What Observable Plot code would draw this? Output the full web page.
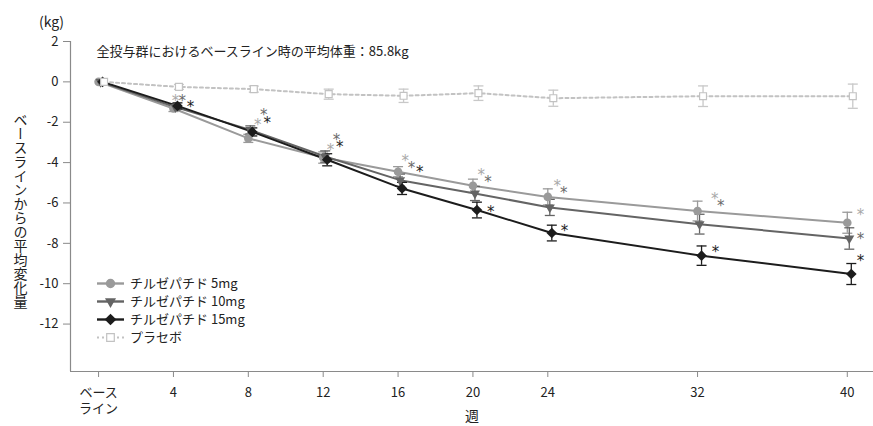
<!DOCTYPE html>
<html><head><meta charset="utf-8">
<script src="https://cdn.jsdelivr.net/npm/d3@7"></script>
<script src="https://cdn.jsdelivr.net/npm/@observablehq/plot@0.6"></script>
<style>
body{margin:0;background:#fff;font-family:'Noto Sans CJK JP',sans-serif;}
#wrap{position:relative;width:873px;height:426px;}
#legend{position:absolute;left:0;top:0;pointer-events:none;}
</style></head><body><div id="wrap"></div>
<script>
// ---- data ----
const weeks = [0, 4, 8, 12, 16, 20, 24, 32, 40];
const weekLabels = ["ベース\nライン", "4", "8", "12", "16", "20", "24", "32", "40"];
const yTicks = [2, 0, -2, -4, -6, -8, -10, -12];
const seriesNames = ["チルゼパチド 5mg", "チルゼパチド 10mg", "チルゼパチド 15mg", "プラセボ"];
const mean5   = [0, -1.32, -2.80, -3.75, -4.45, -5.15, -5.70, -6.40, -6.98];
const se5     = [0, 0.15, 0.20, 0.28, 0.25, 0.33, 0.40, 0.49, 0.52];
const mean10  = [0, -1.25, -2.38, -3.70, -4.87, -5.53, -6.22, -7.05, -7.76];
const se10    = [0, 0.15, 0.20, 0.28, 0.30, 0.35, 0.40, 0.49, 0.53];
const mean15  = [0, -1.19, -2.48, -3.86, -5.28, -6.35, -7.49, -8.61, -9.52];
const se15    = [0, 0.15, 0.20, 0.30, 0.30, 0.39, 0.39, 0.48, 0.52];
const meanPbo = [0, -0.25, -0.36, -0.61, -0.69, -0.56, -0.81, -0.71, -0.71];
const sePbo   = [0, 0.12, 0.15, 0.25, 0.33, 0.36, 0.40, 0.51, 0.60];
// significance asterisk annotations (week position, kg position)
const astWeek5  = [4.11, 8.50, 12.39, 16.39, 20.45, 24.50, 32.92, 40.70];
const astY5     = [-0.72, -1.91, -3.15, -3.73, -4.43, -4.94, -5.60, -6.41];
const astWeek10 = [4.47, 8.83, 12.71, 16.72, 20.81, 24.85, 33.24, 40.70];
const astY10    = [-0.72, -1.42, -2.66, -4.06, -4.75, -5.30, -5.96, -7.56];
const astWeek15 = [4.91, 9.01, 12.89, 17.16, 20.95, 24.89, 32.96, 40.70];
const astY15    = [-1.06, -1.83, -3.04, -4.28, -6.24, -7.16, -8.24, -8.69];
const astLabel = "*";
const titleText = "全投与群におけるベースライン時の平均体重：85.8kg";
const yLabelText = "ベースラインからの平均変化量";
const xLabelText = "週";
const unitText = "(kg)";

// ---- styling ----
const xDomain = [-1.5, 41.4];
const yDomain = [-14.35, 2];
const colors = ["#9a9a9a", "#646464", "#1c1c1c", "#c2c2c2"];
const astColors = ["#a8a8a8", "#6a6a6a", "#1c1c1c"];
const dxs = [0, 2, 4, 5.5];
const font = "'Noto Sans CJK JP', 'Noto Sans', sans-serif";

const rows = (mean, se) => weeks.map((w, i) => ({week: w, mean: mean[i], lo: mean[i] - se[i], hi: mean[i] + se[i], se: se[i]}));
const series = [rows(mean5, se5), rows(mean10, se10), rows(mean15, se15), rows(meanPbo, sePbo)];
const asts = [
  astWeek5.map((w, i) => ({week: w, y: astY5[i]})),
  astWeek10.map((w, i) => ({week: w, y: astY10[i]})),
  astWeek15.map((w, i) => ({week: w, y: astY15[i]}))
];

const capSymbol = {draw(ctx, size) { const r = Math.sqrt(size / Math.PI); ctx.moveTo(-r, 0); ctx.lineTo(r, 0); }};
const pointStyles = [
  {symbol: "circle", r: 4.3, fill: colors[0], stroke: "none"},
  {symbol: "triangle2", r: 4.8, fill: colors[1], stroke: "none", rotate: 180},
  {symbol: "square2", r: 4.8, fill: colors[2], stroke: "none", rotate: 45},
  {symbol: "square2", r: 4.4, fill: "white", stroke: colors[3], strokeWidth: 1.2}
];

const marks = [];
// axis lines
marks.push(Plot.ruleX([xDomain[0]], {stroke: "#8a8a8a", strokeWidth: 1.2}));
marks.push(Plot.ruleY([yDomain[0]], {stroke: "#8a8a8a", strokeWidth: 1.2}));
marks.push(Plot.axisY(yTicks, {tickSize: 7, tickPadding: 5, tickFormat: d => String(d), fontSize: 13, stroke: "#8a8a8a", fill: "#222", label: null}));
marks.push(Plot.axisX(weeks, {tickSize: 6, tickPadding: 8, tickFormat: d => weekLabels[weeks.indexOf(d)], lineHeight: 1.25, fontSize: 13, stroke: "#8a8a8a", fill: "#222", label: null}));

for (let i = 0; i < 4; i++) {
  const d = series[i];
  const eb = d.filter(r => r.se > 0);
  const c = colors[i];
  const ebColor = i === 3 ? "#c8c8c8" : c;
  marks.push(Plot.line(d, {x: "week", y: "mean", stroke: c, strokeWidth: 2, dx: dxs[i],
    strokeDasharray: i === 3 ? "3,3" : null}));
  marks.push(Plot.ruleX(eb, {x: "week", y1: "lo", y2: "hi", stroke: ebColor, strokeWidth: 1.3, dx: dxs[i]}));
  marks.push(Plot.dot(eb, {x: "week", y: "lo", symbol: capSymbol, r: 5, fill: "none", stroke: ebColor, strokeWidth: 1.3, dx: dxs[i]}));
  marks.push(Plot.dot(eb, {x: "week", y: "hi", symbol: capSymbol, r: 5, fill: "none", stroke: ebColor, strokeWidth: 1.3, dx: dxs[i]}));
}
for (let i = 0; i < 4; i++) {
  marks.push(Plot.dot(series[i], {x: "week", y: "mean", dx: dxs[i], ...pointStyles[i]}));
}
for (let i = 0; i < 3; i++) {
  marks.push(Plot.text(asts[i], {x: "week", y: "y", text: () => astLabel, fill: astColors[i], fontSize: 15,
    fontFamily: "'DejaVu Sans', sans-serif", dy: 4.4}));
}
// texts
marks.push(Plot.text([titleText], {frameAnchor: "top-left", dx: 26, dy: 5, textAnchor: "start", fontSize: 13, fill: "#222"}));
marks.push(Plot.text([unitText], {frameAnchor: "top-left", dx: -19, dy: -24, textAnchor: "middle", fontSize: 14, fill: "#222"}));
marks.push(Plot.text([xLabelText], {frameAnchor: "bottom", dy: 49, textAnchor: "middle", fontSize: 14, fill: "#222"}));
marks.push(Plot.text([yLabelText], {frameAnchor: "left", dx: -50, textAnchor: "middle", fontSize: 14, fill: "#222"}));

const chart = Plot.plot({
  width: 873, height: 426,
  marginLeft: 70, marginRight: 0, marginTop: 41, marginBottom: 55,
  style: {fontFamily: font, fontSize: "13px", color: "#222", background: "white"},
  x: {domain: xDomain},
  y: {domain: yDomain},
  marks
});
document.getElementById("wrap").appendChild(chart);

// vertical writing for the y label
d3.select(chart).selectAll("text").filter(function() { return this.textContent === yLabelText; })
  .style("writing-mode", "vertical-rl").style("text-orientation", "upright").attr("text-anchor", "middle");

// legend overlay
const leg = d3.select("#wrap").append("svg").attr("id", "legend").attr("width", 873).attr("height", 426)
  .style("font-family", font);
const legY = [283.5, 301.5, 319.5, 337.5];
const symGen = [d3.symbolCircle, d3.symbolTriangle2, d3.symbolSquare2, d3.symbolSquare2];
seriesNames.forEach((name, i) => {
  const g = leg.append("g").attr("transform", `translate(0,${legY[i]})`);
  g.append("line").attr("x1", 97).attr("x2", 124).attr("stroke", colors[i]).attr("stroke-width", i === 3 ? 2 : 2.4)
    .attr("stroke-dasharray", i === 3 ? "2,3" : null);
  const ps = pointStyles[i];
  const rr = ps.r * 1.1;
  g.append("path").attr("d", d3.symbol(symGen[i], Math.PI * rr * rr)())
    .attr("transform", `translate(110.5,0) rotate(${ps.rotate || 0})`)
    .attr("fill", ps.fill).attr("stroke", ps.stroke).attr("stroke-width", ps.strokeWidth || 0);
  g.append("text").attr("x", 130).attr("dy", "0.35em").attr("font-size", 13).attr("fill", "#222").text(name);
});
</script></body></html>
